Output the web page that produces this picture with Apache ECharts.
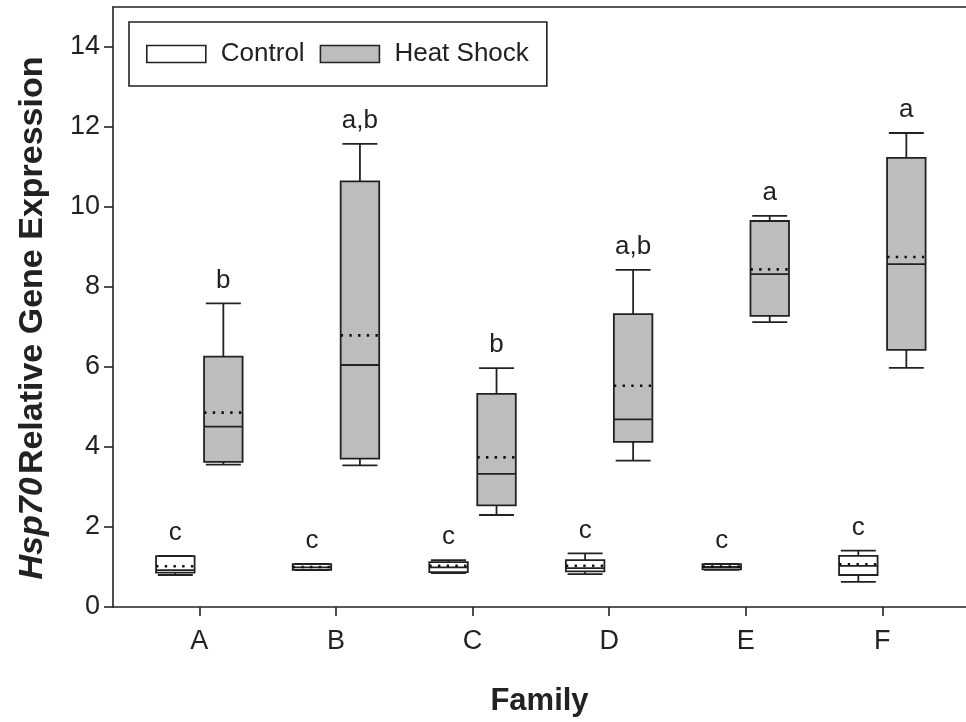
<!DOCTYPE html>
<html>
<head>
<meta charset="utf-8">
<script src="https://cdn.jsdelivr.net/npm/echarts@6/dist/echarts.min.js"></script>
<style>
  html, body { margin: 0; padding: 0; background: #fff; }
  #chart { width: 966px; height: 722px; }
</style>
</head>
<body>
<div id="chart"></div>
<script>
// Families on the x axis
const families = ['A', 'B', 'C', 'D', 'E', 'F'];
const yTicks = [0, 2, 4, 6, 8, 10, 12, 14];

// Box statistics per family: [lower whisker, Q1, median, Q3, upper whisker]
const controlBoxes = [
  [0.80, 0.86, 0.92, 1.27, 1.28],
  [0.92, 0.93, 0.99, 1.07, 1.08],
  [0.85, 0.87, 0.99, 1.12, 1.17],
  [0.82, 0.89, 0.97, 1.17, 1.34],
  [0.93, 0.94, 1.00, 1.07, 1.08],
  [0.63, 0.80, 1.03, 1.28, 1.41]
];
const controlMeans = [1.02, 1.00, 1.03, 1.03, 1.01, 1.07];
const controlLetters = ['c', 'c', 'c', 'c', 'c', 'c'];

const heatBoxes = [
  [3.56, 3.63, 4.51, 6.26, 7.59],
  [3.54, 3.71, 6.05, 10.64, 11.58],
  [2.30, 2.54, 3.33, 5.33, 5.97],
  [3.66, 4.13, 4.69, 7.32, 8.43],
  [7.12, 7.28, 8.32, 9.65, 9.78],
  [5.98, 6.43, 8.57, 11.23, 11.85]
];
const heatMeans = [4.86, 6.79, 3.74, 5.53, 8.44, 8.75];
const heatLetters = ['b', 'a,b', 'b', 'a,b', 'a', 'a'];

const FONT = '"Liberation Sans", Arial, Helvetica, sans-serif';
const INK = '#222';
const X_MIN = 0.368, X_MAX = 6.6125;

function rows(boxes, means, letters) {
  return boxes.map((b, i) => [i + 1].concat(b, [means[i], letters[i]]));
}

// Draws one box-and-whisker glyph with a dotted mean line and a letter above it
function makeRenderer(offset, fill) {
  const BOX_W = 0.282;   // box width in x-axis units
  const CAP_W = 0.256;   // whisker cap width in x-axis units
  return function (params, api) {
    const x = api.value(0) + offset;
    const lo = api.value(1), q1 = api.value(2), med = api.value(3),
          q3 = api.value(4), hi = api.value(5), mean = api.value(6);
    const letter = api.value(7);
    const half = api.size([BOX_W, 0])[0] / 2;
    const capHalf = api.size([CAP_W, 0])[0] / 2;
    const c = api.coord([x, 0])[0];
    const y = v => api.coord([x, v])[1];
    const line = { stroke: INK, lineWidth: 1.8 };
    const children = [
      { type: 'line', shape: { x1: c, y1: y(hi), x2: c, y2: y(q3) }, style: line },
      { type: 'line', shape: { x1: c, y1: y(q1), x2: c, y2: y(lo) }, style: line },
      { type: 'line', shape: { x1: c - capHalf, y1: y(hi), x2: c + capHalf, y2: y(hi) }, style: line },
      { type: 'line', shape: { x1: c - capHalf, y1: y(lo), x2: c + capHalf, y2: y(lo) }, style: line },
      { type: 'rect', shape: { x: c - half, y: y(q3), width: 2 * half, height: y(q1) - y(q3) },
        style: { fill: fill, stroke: INK, lineWidth: 1.8 } },
      { type: 'line', shape: { x1: c - half, y1: y(med), x2: c + half, y2: y(med) }, style: line },
      { type: 'line', shape: { x1: c - half, y1: y(mean), x2: c + half, y2: y(mean) },
        style: { stroke: '#111', lineWidth: 2.6, lineDash: [2.4, 6.3] } },
      { type: 'text', style: {
          text: letter, x: c, y: y(hi) - 23, align: 'center', verticalAlign: 'middle',
          font: '26px ' + FONT, fill: INK } }
    ];
    return { type: 'group', children: children };
  };
}

const chart = echarts.init(document.getElementById('chart'), null, { renderer: 'canvas' });

chart.setOption({
  animation: false,
  backgroundColor: '#fff',
  textStyle: { fontFamily: FONT, color: INK },
  grid: { left: 113, top: 7, right: 0, bottom: 115, show: false },
  legend: {
    left: 129, top: 22,
    orient: 'horizontal',
    padding: [19, 18, 19, 17],
    itemGap: 15,
    itemWidth: 59,
    itemHeight: 17,
    borderColor: INK,
    borderWidth: 1.6,
    icon: 'rect',
    textStyle: { fontSize: 26, color: INK, fontFamily: FONT, padding: [0, 0, 0, 10] },
    data: [
      { name: 'Control', itemStyle: { color: '#fff', borderColor: INK, borderWidth: 1.6 } },
      { name: 'Heat Shock', itemStyle: { color: '#bdbdbd', borderColor: INK, borderWidth: 1.6 } }
    ]
  },
  xAxis: [
    {
      type: 'value',
      min: X_MIN,
      max: X_MAX,
      name: 'Family',
      nameLocation: 'middle',
      nameGap: 79,
      nameTextStyle: { fontSize: 31, fontWeight: 'bold', color: INK, fontFamily: FONT },
      splitLine: { show: false },
      axisLine: { show: true, lineStyle: { color: INK, width: 1.6 } },
      axisTick: { show: true, inside: false, length: 9, lineStyle: { color: INK, width: 1.6 },
                  customValues: families.map((f, i) => i + 1) },
      axisLabel: { fontSize: 27, color: INK, fontFamily: FONT, margin: 21,
                   customValues: families.map((f, i) => i + 1),
                   formatter: v => families[Math.round(v) - 1] || '' }
    },
    {
      // top frame line
      type: 'value',
      position: 'top',
      min: X_MIN,
      max: X_MAX,
      splitLine: { show: false },
      axisLine: { show: true, lineStyle: { color: INK, width: 1.6 } },
      axisTick: { show: false },
      axisLabel: { show: false }
    }
  ],
  yAxis: {
    type: 'value',
    min: 0,
    max: 15,
    name: '{i|Hsp70} {b|Relative Gene Expression}',
    nameLocation: 'middle',
    nameRotate: 90,
    nameGap: 63,
    nameTextStyle: {
      color: INK,
      padding: [0, 22, 0, 0],
      rich: {
        i: { fontSize: 34, fontWeight: 'bold', fontStyle: 'italic', fontFamily: FONT, color: INK },
        b: { fontSize: 34, fontWeight: 'bold', fontFamily: FONT, color: INK }
      }
    },
    splitLine: { show: false },
    axisLine: { show: true, lineStyle: { color: INK, width: 1.6 } },
    axisTick: { show: true, inside: false, length: 9, lineStyle: { color: INK, width: 1.6 },
                customValues: yTicks },
    axisLabel: { fontSize: 27, color: INK, fontFamily: FONT, margin: 13,
                 customValues: yTicks }
  },
  series: [
    {
      name: 'Control',
      type: 'custom',
      color: '#fff',
      renderItem: makeRenderer(-0.1757, '#fff'),
      encode: { x: 0, y: [1, 2, 3, 4, 5] },
      data: rows(controlBoxes, controlMeans, controlLetters)
    },
    {
      name: 'Heat Shock',
      type: 'custom',
      color: '#bdbdbd',
      renderItem: makeRenderer(0.1757, '#bdbdbd'),
      encode: { x: 0, y: [1, 2, 3, 4, 5] },
      data: rows(heatBoxes, heatMeans, heatLetters)
    }
  ]
});
</script>
</body>
</html>
